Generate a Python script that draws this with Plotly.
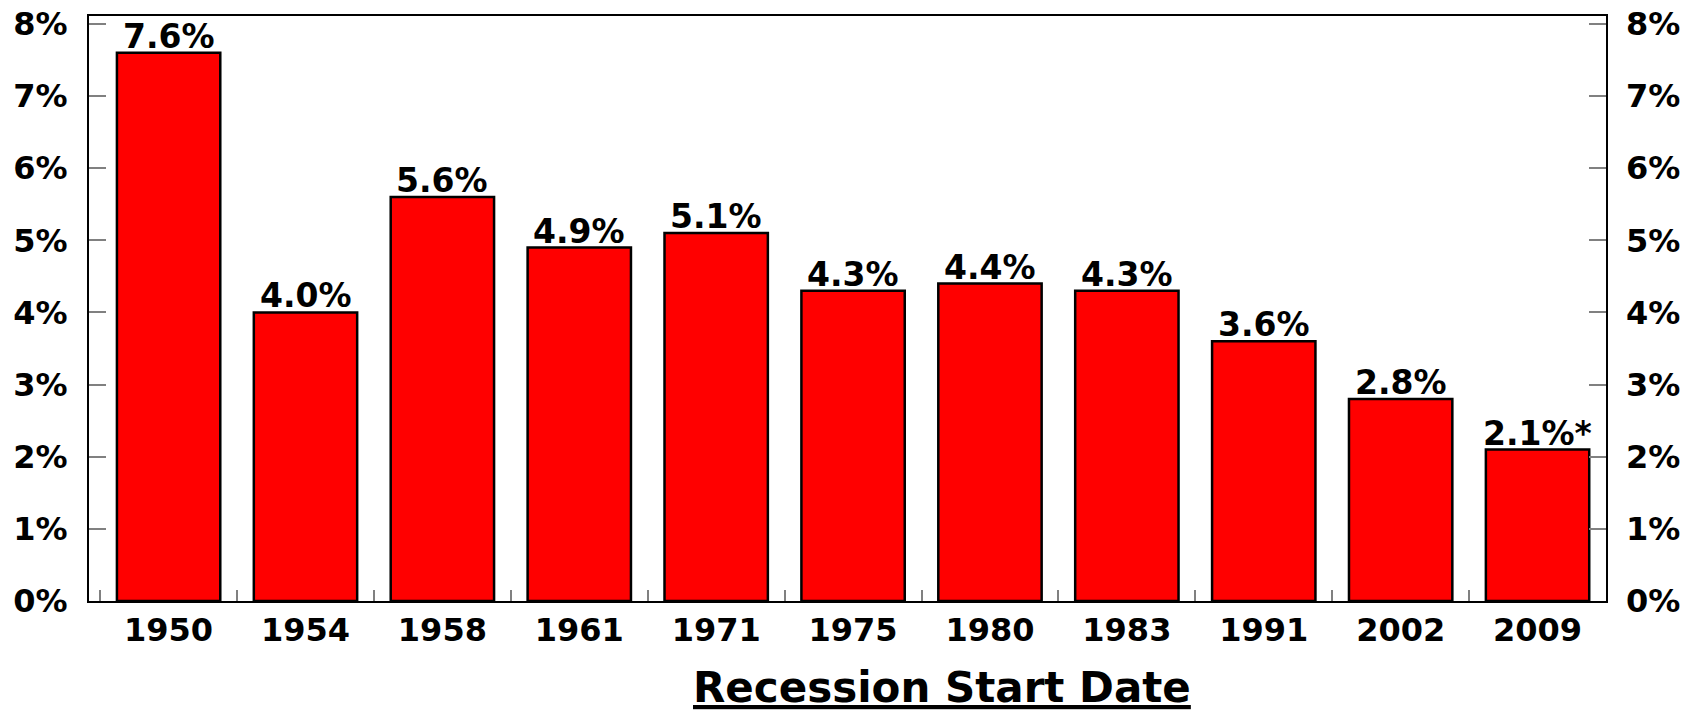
import plotly.graph_objects as go

# Recession start years and the values shown above each bar
years = ["1950", "1954", "1958", "1961", "1971", "1975", "1980", "1983", "1991", "2002", "2009"]
values = [7.6, 4.0, 5.6, 4.9, 5.1, 4.3, 4.4, 4.3, 3.6, 2.8, 2.1]
footnote_marks = ["", "", "", "", "", "", "", "", "", "", "*"]
y_ticks = [0, 1, 2, 3, 4, 5, 6, 7, 8]

FONT = "DejaVu Sans"
labels = [f"{v:.1f}%{m}" for v, m in zip(values, footnote_marks)]

fig = go.Figure()
fig.add_trace(go.Bar(
    x=years,
    y=values,
    marker=dict(color="#ff0000", line=dict(color="black", width=2.5)),
    width=0.755,
    hoverinfo="skip",
))

# value labels sitting right on top of each bar (category index on the x axis)
label_font = dict(family=FONT, size=33, color="black", weight="bold")
annotations = [
    dict(x=i, y=v, text=t, xref="x", yref="y", showarrow=False,
         xanchor="center", yanchor="bottom", yshift=-5, font=label_font)
    for i, (v, t) in enumerate(zip(values, labels))
]
annotations.append(dict(
    text="<u>Recession Start Date</u>",
    xref="paper", yref="paper",
    x=0.562, y=-0.1487, yanchor="middle", xanchor="center",
    showarrow=False,
    font=dict(family=FONT, size=42, color="black", weight="bold"),
))

yrange = [0, 8.11]
tick_font = dict(family=FONT, size=32, color="black", weight="bold")

fig.update_layout(
    width=1705,
    height=716,
    margin=dict(l=89, r=99, t=16, b=115),
    paper_bgcolor="white",
    plot_bgcolor="white",
    showlegend=False,
    xaxis=dict(
        type="category", automargin=False,
        showline=True, linecolor="black", linewidth=2, mirror=True,
        ticks="inside", tickson="boundaries", ticklen=11, tickcolor="#808080", tickwidth=1.5,
        tickfont=tick_font, showgrid=False,
    ),
    yaxis=dict(
        range=yrange, automargin=False,
        tickvals=y_ticks,
        ticktext=[f"{t}%" for t in y_ticks],
        showline=True, linecolor="black", linewidth=2, mirror=True,
        ticks="inside", ticklen=17, tickcolor="#808080", tickwidth=1.5,
        ticklabelstandoff=13,
        tickfont=tick_font, showgrid=False, zeroline=False,
    ),
    yaxis2=dict(
        overlaying="y", side="right", anchor="x", automargin=False,
        range=yrange,
        tickvals=y_ticks,
        ticktext=[f"{t}%" for t in y_ticks],
        showline=False,
        ticks="inside", ticklen=17, tickcolor="#808080", tickwidth=1.5,
        ticklabelstandoff=19,
        tickfont=tick_font, showgrid=False, zeroline=False,
    ),
    annotations=annotations,
)

# empty trace so the right-hand axis is drawn
fig.add_trace(go.Scatter(x=[years[0]], y=[None], yaxis="y2", hoverinfo="skip", showlegend=False))

fig.write_html("out.html")
